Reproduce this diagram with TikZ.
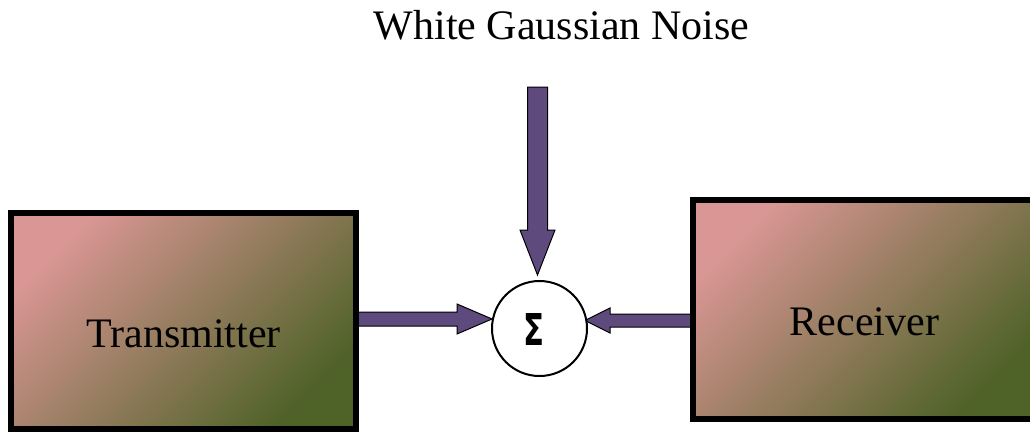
\documentclass[tikz,border=0pt]{standalone}
\usepackage{fontspec}
\usepackage{graphicx}
\setmainfont{Liberation Serif}
\newfontfamily\sigfont{DejaVu Sans}
\usetikzlibrary{calc}
\definecolor{pinkc}{HTML}{D99694}
\definecolor{greenc}{HTML}{4F6228}
\definecolor{arrowc}{HTML}{5F4A7D}
\newcommand\harrow[6]{% x start, x head base, x tip, y, shaft half width, head half width
  \draw[barrow] (#1,#4-#5) -- (#2,#4-#5) -- (#2,#4-#6) -- (#3,#4) -- (#2,#4+#6) -- (#2,#4+#5) -- (#1,#4+#5) -- cycle;}
\newcommand\varrow[6]{% y start, y head base, y tip, x, shaft half width, head half width
  \draw[barrow] (#4-#5,#1) -- (#4-#5,#2) -- (#4-#6,#2) -- (#4,#3) -- (#4+#6,#2) -- (#4+#5,#2) -- (#4+#5,#1) -- cycle;}
\begin{document}
\begin{tikzpicture}[x=1pt,y=-1pt,
  block/.style={draw=black, line width=6pt, rectangle, inner sep=0pt,
    top color=pinkc, bottom color=greenc, shading angle=45},
  lbl/.style={font=\fontsize{42}{50}\selectfont, anchor=base, inner sep=0pt},
  sumnode/.style={circle, draw=black, line width=2pt, fill=white,
    minimum size=95pt, inner sep=0pt},
  barrow/.style={fill=arrowc, draw=black, line width=1pt, line join=miter}]
\useasboundingbox (0,0) rectangle (1030,432);
\clip (0,0) rectangle (1030,432);
% arrows (drawn first so the box borders cover their ends)
\harrow{340}{457}{492}{319}{7}{15}
\harrow{705}{610}{585}{320.5}{6.5}{12.5}
\varrow{87}{230}{275}{537.5}{10}{17.5}
% blocks
\node[block, minimum width=345pt, minimum height=216pt] (tx) at (183.5,321) {};
\node[block, minimum width=343pt, minimum height=219pt] (rx) at (864.5,309.5) {};
\node[sumnode] (sum) at (539.5,328.5) {};
\node[inner sep=0pt] (sigma) at (534,329) {\resizebox{21pt}{32pt}{\sigfont\bfseries Σ}};
% labels
\node[lbl] (txl) at ($(tx.center)+(0,26)$) {Transmitter};
\node[lbl] (rxl) at ($(rx.center)+(0,25.5)$) {Receiver};
\node[lbl] (noise) at (561.5,39) {White Gaussian Noise};
\end{tikzpicture}
\end{document}
